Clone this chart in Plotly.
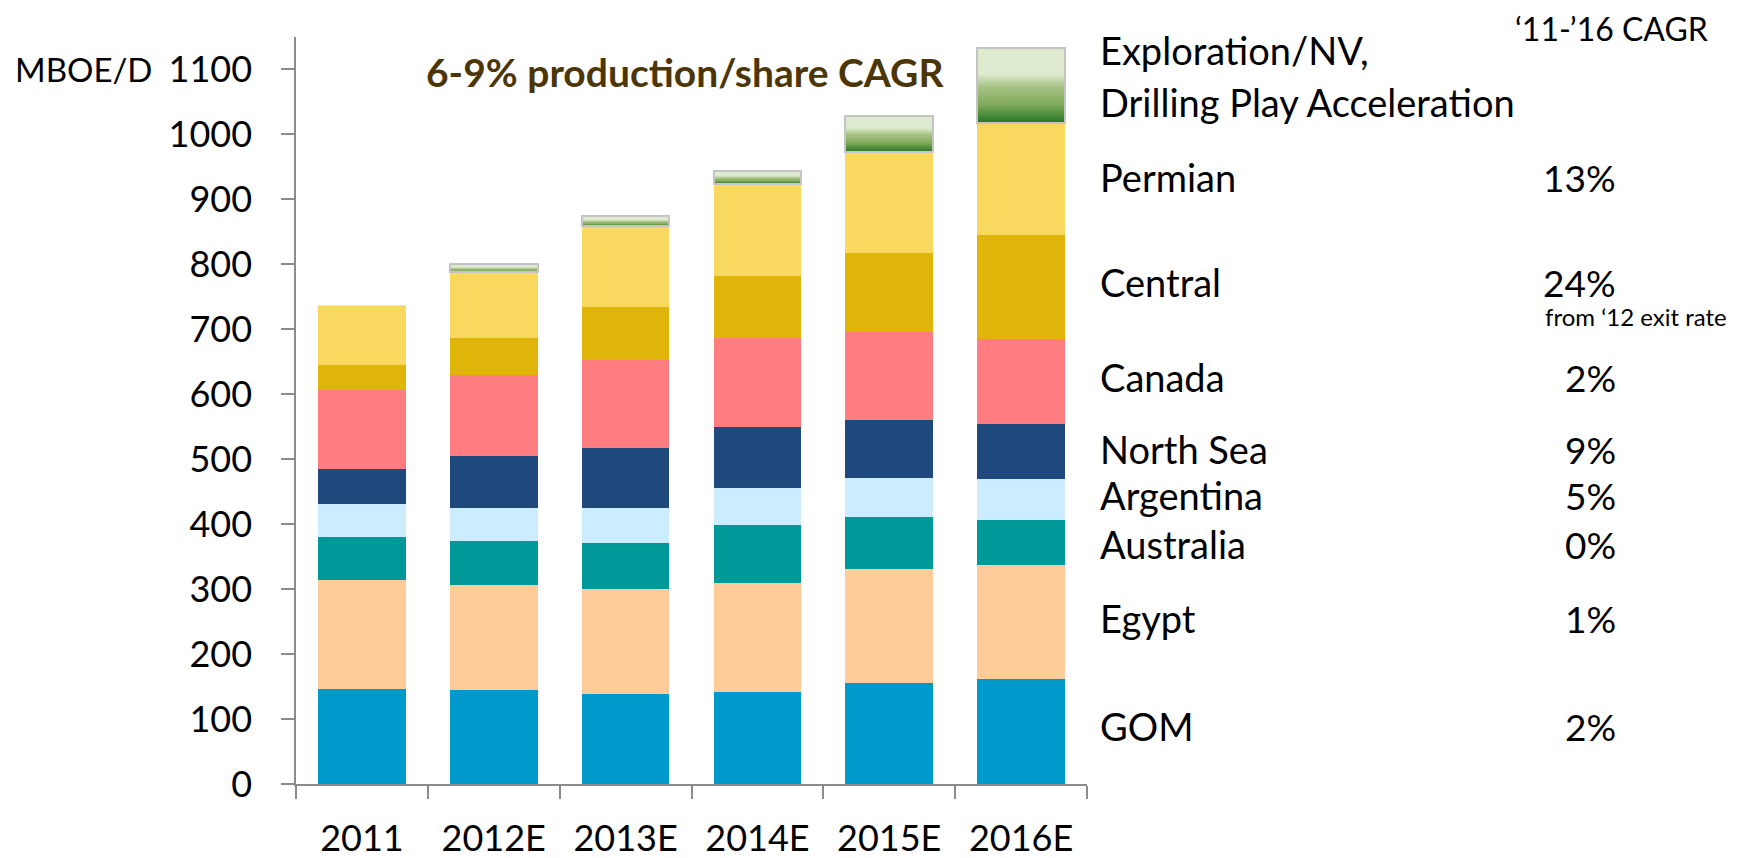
import plotly.graph_objects as go

categories = ["2011", "2012E", "2013E", "2014E", "2015E", "2016E"]

gom = [147, 144, 139, 141, 156, 162]
egypt = [167, 162, 161, 168, 175, 175]
australia = [67, 68, 71, 90, 80, 69]
argentina = [50, 51, 54, 57, 60, 63]
north_sea = [54, 80, 93, 93, 89, 85]
canada = [122, 124, 135, 138, 136, 131]
central = [38, 57, 81, 95, 121, 160]
permian = [92, 102, 125, 142, 156, 172]
exploration = [0, 12, 15, 19, 56, 116]

region_labels = ["Permian", "Central", "Canada", "North Sea", "Argentina", "Australia", "Egypt", "GOM"]
cagr_labels = ["13%", "24%", "2%", "9%", "5%", "0%", "1%", "2%"]
y_ticks = [0, 100, 200, 300, 400, 500, 600, 700, 800, 900, 1000, 1100]

FONT = "Lato, Calibri, sans-serif"

series = [
    ("GOM", gom, "#0099CC"),
    ("Egypt", egypt, "#FFCC99"),
    ("Australia", australia, "#009999"),
    ("Argentina", argentina, "#CCECFF"),
    ("North Sea", north_sea, "#1F497D"),
    ("Canada", canada, "#FF7C80"),
    ("Central", central, "#DFB50A"),
    ("Permian", permian, "#F8D85F"),
]

fig = go.Figure()
for name, vals, col in series:
    fig.add_trace(go.Bar(x=categories, y=vals, name=name, marker=dict(color=col, line=dict(width=0))))

# gradient for the exploration block: stacked thin slices (bottom dark -> top pale)
stops = [(0.0, (31, 115, 32)), (0.25, (127, 170, 90)), (0.5, (170, 196, 136)), (0.66, (221, 234, 208)), (1.0, (221, 234, 208))]


def grad(t):
    for (t0, c0), (t1, c1) in zip(stops[:-1], stops[1:]):
        if t0 <= t <= t1:
            f = (t - t0) / (t1 - t0) if t1 > t0 else 0
            return "rgb(%d,%d,%d)" % tuple(round(a + (b - a) * f) for a, b in zip(c0, c1))
    return "rgb(221,234,208)"


N = 30
for i in range(N):
    c = grad((i + 0.5) / N)
    fig.add_trace(go.Bar(x=categories, y=[v / N for v in exploration], name="Exploration/NV",
                         marker=dict(color=c, line=dict(width=0.6, color=c)), showlegend=False,
                         hoverinfo="skip"))

base_top = [sum(s[1][k] for s in series) for k in range(len(categories))]
fig.add_trace(go.Bar(x=categories, y=[v if v > 0 else None for v in exploration], base=base_top,
                     marker=dict(color="rgba(0,0,0,0)", line=dict(width=2, color="#C4C4C4")),
                     showlegend=False, hoverinfo="skip"))

# page body has an 8px margin: plot area spans page x 296..1087, y 37..784
fig.update_layout(
    barmode="stack",
    bargap=0.335,
    width=1739, height=858,
    margin=dict(l=288, r=660, t=29, b=82, autoexpand=False),
    paper_bgcolor="white", plot_bgcolor="white",
    showlegend=False,
    font=dict(family=FONT, color="black", size=36),
)
fig.update_xaxes(
    type="category", showline=True, linecolor="#8C8C8C", linewidth=1.5, automargin=False,
    ticks="outside", tickson="boundaries", ticklen=13, tickcolor="#8C8C8C", tickwidth=1.5,
    tickfont=dict(size=36, family=FONT, color="black"), showgrid=False, ticklabelstandoff=22,
)
fig.update_yaxes(
    range=[0, 1150], tickvals=y_ticks, showline=True, linecolor="#8C8C8C", linewidth=1.5, automargin=False,
    ticks="outside", ticklen=13, tickcolor="#8C8C8C", tickwidth=1.5, showgrid=False, zeroline=False,
    tickfont=dict(size=36, family=FONT, color="black"), ticklabelstandoff=22,
)


def py(page_y):
    return (784 - page_y) / 747.0


def px(page_x):
    return (page_x - 296) / 791.0


def note(text, x, y, xanchor, size, color="black"):
    return dict(text=text, x=px(x), y=py(y), xref="paper", yref="paper", xanchor=xanchor, yanchor="middle",
                showarrow=False, font=dict(size=size, family=FONT, color=color))


ann = []
ann.append(note("MBOE/D", 13, 69, "left", 33))
ann.append(note("<b>6-9% production/share CAGR</b>", 685, 72, "center", 39, "#4C3608"))
ann.append(note("‘11-’16 CAGR", 1710, 28, "right", 32))
ann.append(note("Exploration/NV,", 1098, 50, "left", 38))
ann.append(note("Drilling Play Acceleration", 1098, 102, "left", 38))
label_y = [177, 282, 377, 449, 495, 544, 618, 726]
for lab, pct, yy in zip(region_labels, cagr_labels, label_y):
    ann.append(note(lab, 1098, yy, "left", 38))
    ann.append(note(pct, 1618, yy, "right", 37))
ann.append(note("from ‘12 exit rate", 1729, 316, "right", 24))
fig.update_layout(annotations=ann)

fig.write_html("out.html")
